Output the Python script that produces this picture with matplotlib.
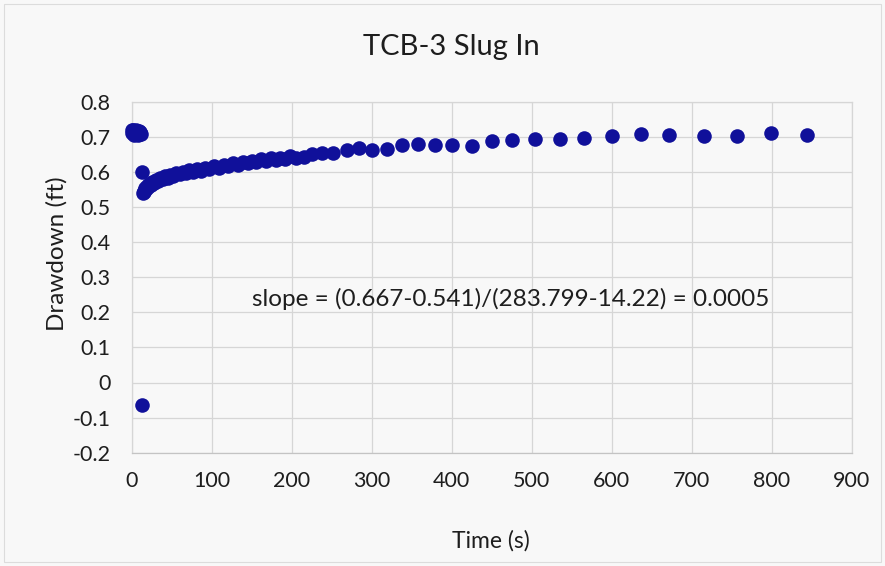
import matplotlib
matplotlib.use("Agg")
import matplotlib.pyplot as plt
from matplotlib.patches import Rectangle

# Slug-in test record for well TCB-3
time_s = [
    0.0, 1.0, 2.0, 3.0, 4.0, 5.0, 6.0, 7.0, 8.0, 9.0, 10.0, 11.0, 12.0,
    12.5, 13.3, 14.22,
    15, 16, 17, 18, 19, 20, 22, 24, 26, 28, 30, 33, 36, 39, 42, 45, 48,
    52, 56, 60, 64, 68, 72, 77, 82, 87, 92, 97, 103, 109, 115, 121, 127,
    133, 139, 145, 150, 156, 162, 168, 174, 180, 186, 192, 198, 205,
    215, 225, 238, 252, 269, 283.799, 300, 319, 338, 358, 379, 401, 425,
    450, 476, 504, 535, 566, 600, 637, 672, 715, 757, 799, 844,
]
drawdown_ft = [
    0.718, 0.712, 0.720, 0.706, 0.716, 0.709, 0.719, 0.713, 0.704, 0.717, 0.711, 0.715, 0.709,
    0.600, -0.064, 0.541,
    0.547, 0.543, 0.553, 0.550, 0.559, 0.556, 0.566, 0.564, 0.572, 0.569, 0.577, 0.574, 0.583,
    0.580, 0.588, 0.584, 0.592,
    0.589, 0.596, 0.593, 0.600, 0.597, 0.604, 0.600, 0.607, 0.603, 0.611, 0.608, 0.616, 0.612,
    0.621, 0.617, 0.625,
    0.621, 0.628, 0.624, 0.630, 0.627, 0.637, 0.631, 0.639, 0.634, 0.641, 0.637, 0.645, 0.641,
    0.643, 0.652, 0.653, 0.654, 0.661, 0.667, 0.663, 0.666, 0.678, 0.680, 0.678, 0.677, 0.675,
    0.688, 0.690, 0.694, 0.694, 0.697, 0.701, 0.709, 0.704, 0.702, 0.702, 0.712, 0.706,
]

x_ticks = [0, 100, 200, 300, 400, 500, 600, 700, 800, 900]
y_ticks = [-0.2, -0.1, 0.0, 0.1, 0.2, 0.3, 0.4, 0.5, 0.6, 0.7, 0.8]
y_tick_labels = ["-0.2", "-0.1", "0", "0.1", "0.2", "0.3", "0.4", "0.5", "0.6", "0.7", "0.8"]

title = "TCB-3 Slug In"
x_label = "Time (s)"
y_label = "Drawdown (ft)"
slope_note = "slope = (0.667-0.541)/(283.799-14.22) = 0.0005"

plt.rcParams["font.family"] = ["Lato", "DejaVu Sans"]

W, H = 885, 566
bg = "#f8f8f8"
grid_c = "#d6d6d6"
dot_c = "#10109a"
text_c = "#1e1e1e"

fig = plt.figure(figsize=(W / 100, H / 100), dpi=100)
fig.patch.set_facecolor(bg)

# chart border
fig.patches.append(Rectangle((4 / W, 1 - 562 / H), 877 / W, 558 / H,
                             transform=fig.transFigure, fill=False,
                             edgecolor="#dcdcdc", lw=0.8))

ax = fig.add_axes([131.5 / W, 1 - 452.7 / H, 720 / W, 351 / H])
ax.set_facecolor(bg)
ax.scatter(time_s, drawdown_ft, s=110, color=dot_c, linewidths=0, zorder=3,
           clip_on=False)

ax.set_xlim(0, 900)
ax.set_ylim(-0.2, 0.8)
ax.set_xticks(x_ticks)
ax.set_yticks(y_ticks)
ax.set_yticklabels(y_tick_labels)
ax.grid(True, color=grid_c, lw=0.9)
ax.set_axisbelow(True)
for s in ax.spines.values():
    s.set_color(grid_c)
    s.set_linewidth(0.9)
ax.spines["bottom"].set_color("#c4c4c4")
ax.tick_params(length=0, labelsize=15.5, colors=text_c)
ax.tick_params(axis="y", pad=15)
ax.tick_params(axis="x", pad=13)

fig.text(451 / W, 1 - 47 / H, title, ha="center", va="center", fontsize=21,
         color=text_c)
fig.text(491 / W, 1 - 541 / H, x_label, ha="center", va="center", fontsize=16.5,
         color=text_c)
fig.text(57 / W, 1 - 254 / H, y_label, ha="center", va="center", fontsize=17.5,
         rotation=90, color=text_c)

ax.text(151, 0.239, slope_note, ha="left", va="center", fontsize=17.5,
        color=text_c)

fig.savefig("out.png", dpi=100, facecolor=bg)
